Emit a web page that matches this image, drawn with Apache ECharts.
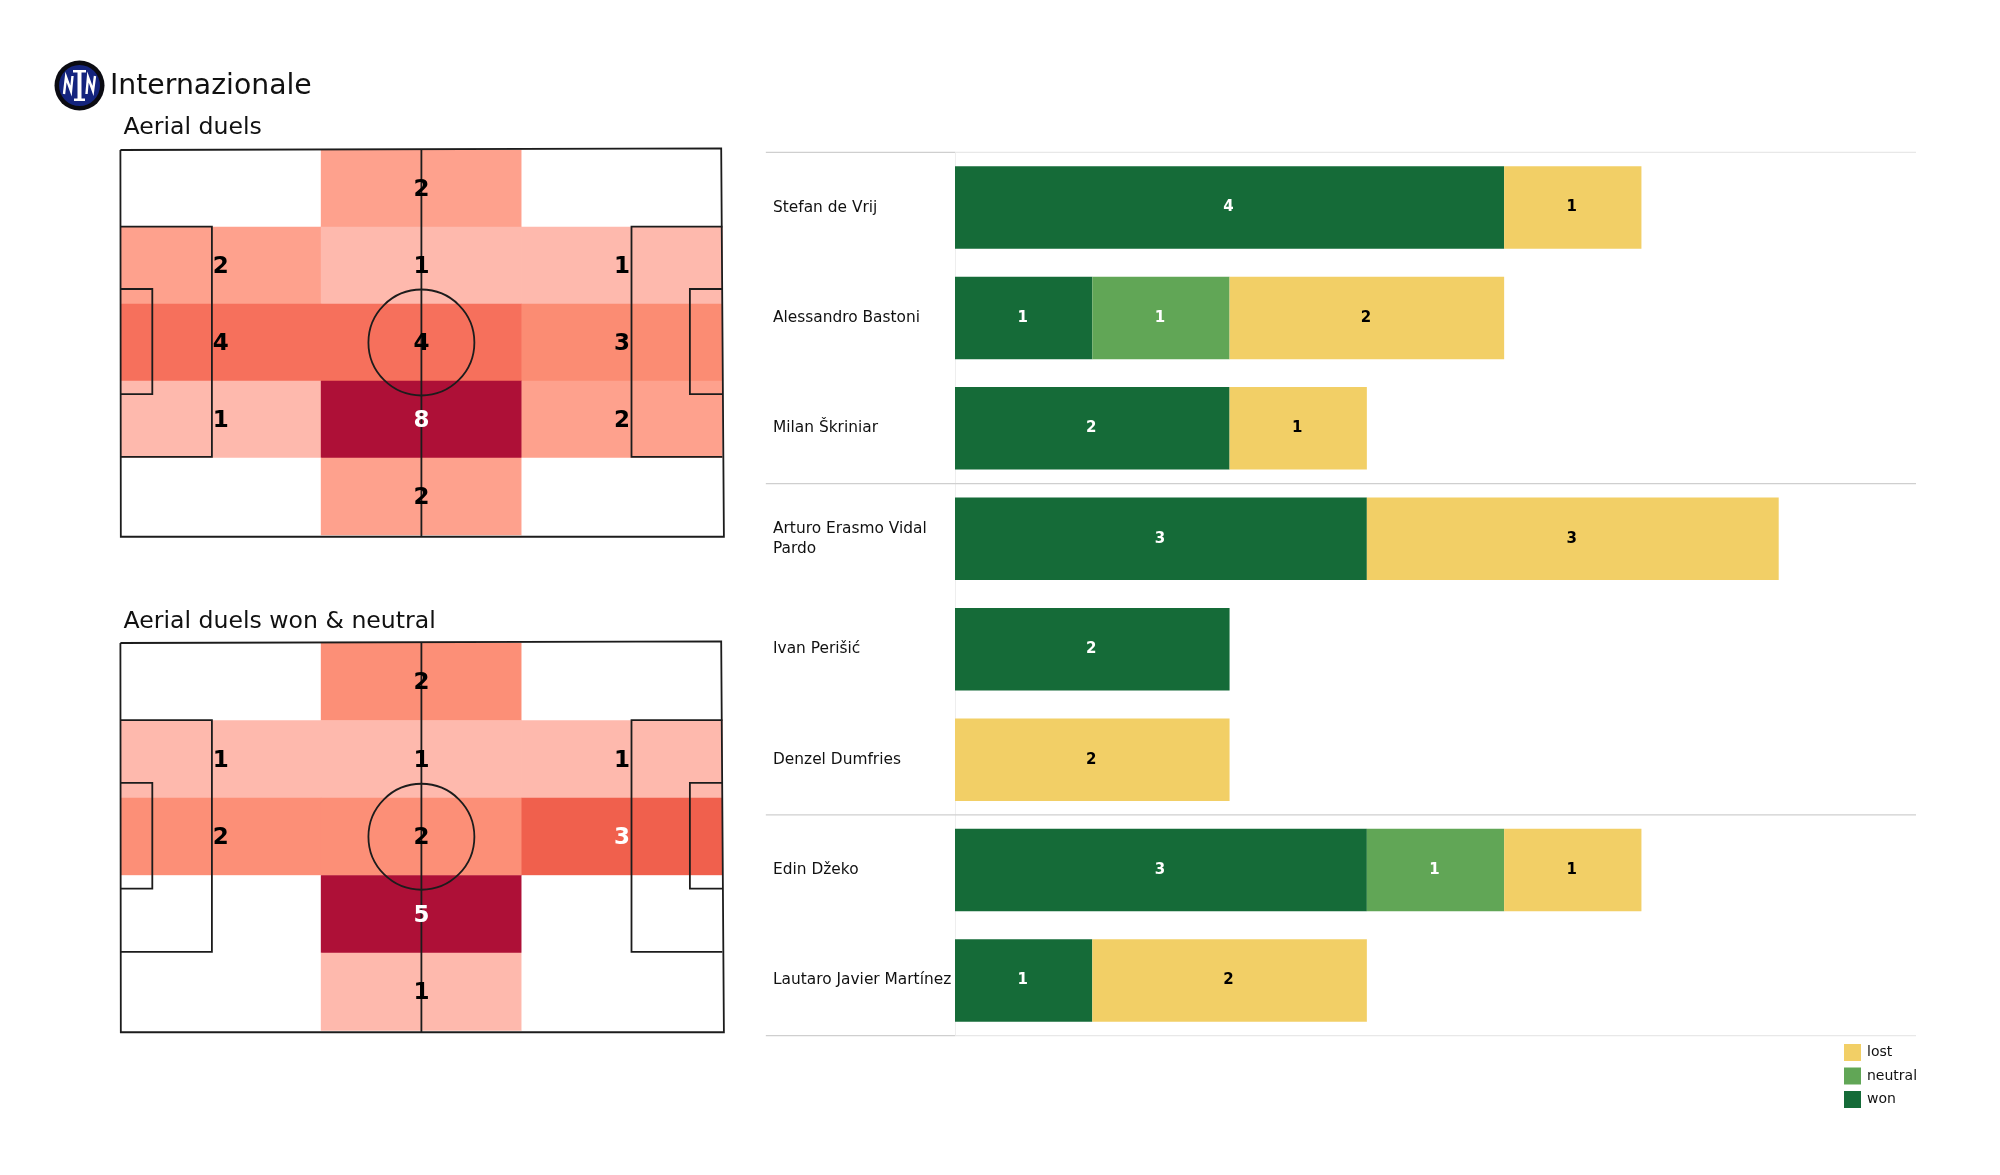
<!DOCTYPE html>
<html><head><meta charset="utf-8">
<style>html,body{margin:0;padding:0;background:#fff}#c{width:2000px;height:1175px}</style>
<script src="https://cdn.jsdelivr.net/npm/echarts@6/dist/echarts.min.js"></script>
</head><body><div id="c"></div>
<script>
const teamName = 'Internazionale';
const pitchTitles = ['Aerial duels', 'Aerial duels won & neutral'];
const pitchColumns = ['left', 'centre', 'right'];
const pitchRows = ['r0', 'r1', 'r2', 'r3', 'r4'];
const allDuels = [[0,2,0],[2,1,1],[4,4,3],[1,8,2],[0,2,0]];
const wonNeutralDuels = [[0,2,0],[1,1,1],[2,2,3],[0,5,0],[0,1,0]];
const allColors = {1:'#feb9ad',2:'#fea18d',3:'#fb8c73',4:'#f6705c',8:'#ae1037'};
const wonColors = {1:'#feb9ad',2:'#fc8f77',3:'#f0604d',5:'#ae1037'};
const allWhite = [8];
const wonWhite = [3,5];

const players = ['Stefan de Vrij','Alessandro Bastoni','Milan Škriniar','Arturo Erasmo Vidal\nPardo','Ivan Perišić','Denzel Dumfries','Edin Džeko','Lautaro Javier Martínez'];
const won     = [4,1,2,3,2,0,3,1];
const neutral = [0,1,0,0,0,0,1,0];
const lost    = [1,2,1,3,0,2,1,2];
const separators = [0,3,6,8];

const pitchPaths = [
  [[0,0],[99.8,-0.4],[100.25,100.45],[0.07,100.45],[0,0]],
  [[50,-0.2],[50,100.4]],
  [[0,19.9],[15.2,19.9],[15.2,79.7],[0,79.7]],
  [[100,19.9],[84.9,19.9],[84.9,79.7],[100,79.7]],
  [[0,36.1],[5.3,36.1],[5.3,63.4],[0,63.4]],
  [[100,36.1],[94.6,36.1],[94.6,63.4],[100,63.4]]
];
const centreCircle = [50,50,8.8];

const FONT = '"DejaVu Sans"';
const pitchGrids = [
  {left:120.4, top:150, width:602, height:385},
  {left:120.4, top:643, width:602, height:387.5}
];
const barGrid = {left:955, top:152.3, width:961, height:883.4};

function cells(rows){ const o=[]; rows.forEach((r,y)=>r.forEach((v,x)=>o.push([x,y,v]))); return o; }

function pitchSeries(i, rows, colors, whites){
  const xa = i*2, ya = i*2;
  return [
    {type:'heatmap', xAxisIndex:xa, yAxisIndex:ya, z:1, silent:true,
     data:cells(rows).map(c=>({value:c, itemStyle:{color:c[2]?colors[c[2]]:'#ffffff'}}))},
    {type:'custom', xAxisIndex:xa+1, yAxisIndex:ya+1, z:2, silent:true,
     data:pitchPaths.map((_,k)=>[k]),
     renderItem:(p,api)=>({type:'polyline',
        shape:{points:pitchPaths[api.value(0)].map(q=>api.coord(q))},
        style:{stroke:'#1c1c1c',fill:null,lineWidth:1.8}})},
    {type:'custom', xAxisIndex:xa+1, yAxisIndex:ya+1, z:2, silent:true,
     data:[centreCircle],
     renderItem:(p,api)=>{const c=api.coord([api.value(0),api.value(1)]);
        return {type:'circle',shape:{cx:c[0],cy:c[1],r:api.size([api.value(2),0])[0]},
        style:{stroke:'#1c1c1c',fill:null,lineWidth:1.8}};}},
    {type:'scatter', xAxisIndex:xa, yAxisIndex:ya, z:3, silent:true, symbolSize:0, itemStyle:{opacity:1},
     data:cells(rows).filter(c=>c[2]>0).map(c=>({value:c,
       label:{show:true,position:'inside',offset:[0,1.5],formatter:String(c[2]),fontFamily:FONT,fontWeight:'bold',fontSize:23,
              color:whites.includes(c[2])?'#ffffff':'#000000'}}))}
  ];
}

function barSeries(name, values, color, labelColor){
  return {type:'bar', name, stack:'d', xAxisIndex:4, yAxisIndex:4, barWidth:82.5, silent:true,
    itemStyle:{color},
    label:{show:true, position:'inside', offset:[-1,0], color:labelColor, fontFamily:FONT, fontWeight:'bold', fontSize:15,
           formatter:p=>p.value>0?String(p.value):''},
    data:values};
}

const axes = {xAxis:[], yAxis:[]};
pitchGrids.forEach((g,i)=>{
  axes.xAxis.push({type:'category',gridIndex:i,data:pitchColumns,show:false});
  axes.xAxis.push({type:'value',gridIndex:i,min:0,max:100,show:false});
  axes.yAxis.push({type:'category',gridIndex:i,data:pitchRows,inverse:true,show:false});
  axes.yAxis.push({type:'value',gridIndex:i,min:0,max:100,inverse:true,show:false});
});
axes.xAxis.push({type:'value',gridIndex:2,min:0,max:7,show:false});
axes.yAxis.push({type:'category',gridIndex:2,data:players,inverse:true,
  axisLine:{show:true,lineStyle:{color:'#eeeeee',width:1}},axisTick:{show:false},
  axisLabel:{show:true,align:'left',margin:182,color:'#111',fontFamily:FONT,fontSize:15.4,lineHeight:20,padding:[10,0,0,0]}});
axes.yAxis.push({type:'value',gridIndex:2,min:0,max:8,inverse:true,show:false});

const white = {fill:'#ffffff'};
const option = {
  backgroundColor:'#ffffff',
  animation:false,
  textStyle:{fontFamily:FONT},
  grid:[...pitchGrids.map(g=>({...g,containLabel:false})),{...barGrid,containLabel:false}],
  xAxis:axes.xAxis, yAxis:axes.yAxis,
  title:[
    {text:teamName,left:110,top:73,padding:0,textStyle:{fontFamily:FONT,fontWeight:'normal',fontSize:28.3,color:'#111'}},
    {text:pitchTitles[0],left:123.5,top:116,padding:0,textStyle:{fontFamily:FONT,fontWeight:'normal',fontSize:23.6,color:'#111'}},
    {text:pitchTitles[1],left:123.5,top:610,padding:0,textStyle:{fontFamily:FONT,fontWeight:'normal',fontSize:23.6,color:'#111'}}
  ],
  legend:{orient:'vertical',left:1844,top:1044,itemWidth:17,itemHeight:17,itemGap:6.5,icon:'rect',selectedMode:false,
    data:['lost','neutral','won'],textStyle:{fontFamily:FONT,fontSize:14,color:'#111',padding:[0,0,0,1]},padding:0},
  series:[
    ...pitchSeries(0,allDuels,allColors,allWhite),
    ...pitchSeries(1,wonNeutralDuels,wonColors,wonWhite),
    barSeries('won',won,'#156b38','#ffffff'),
    barSeries('neutral',neutral,'#61a656','#ffffff'),
    barSeries('lost',lost,'#f2cf66','#000000'),
    {type:'custom',xAxisIndex:4,yAxisIndex:5,z:1,silent:true,
     data:separators.map(v=>[v]),
     renderItem:(p,api)=>{
       const v=api.value(0), a=api.coord([-1.378,v]), b=api.coord([0,v]), c=api.coord([7,v]);
       const edge=(v===0||v===8);
       return {type:'group',children:[
         {type:'line',shape:{x1:a[0],y1:a[1],x2:b[0],y2:b[1]},style:{stroke:'#cfcfcf',lineWidth:1.3}},
         {type:'line',shape:{x1:b[0],y1:b[1],x2:c[0],y2:c[1]},style:{stroke:edge?'#e8e8e8':'#cfcfcf',lineWidth:1.3}}
       ]};
     }}
  ],
  graphic:[
    {type:'circle',z:10,shape:{cx:79.5,cy:85.5,r:25},style:{fill:'#0b0b12'}},
    {type:'circle',z:11,shape:{cx:79.5,cy:85.5,r:20.5},style:{fill:'#14247e'}},
    {type:'rect',z:12,shape:{x:77.5,y:70,width:4,height:31},style:white},
    {type:'rect',z:12,shape:{x:73,y:70,width:13,height:2.5},style:white},
    {type:'rect',z:12,shape:{x:74,y:98.5,width:11,height:2.5},style:white},
    {type:'polyline',z:12,shape:{points:[[64,94],[66,77],[71,91],[72.5,76]]},style:{stroke:'#fff',fill:null,lineWidth:2.4}},
    {type:'polyline',z:12,shape:{points:[[86.5,94],[88,77],[93,91],[95,76]]},style:{stroke:'#fff',fill:null,lineWidth:2.4}}
  ]
};
echarts.init(document.getElementById('c'),null,{renderer:'canvas'}).setOption(option);
</script></body></html>
